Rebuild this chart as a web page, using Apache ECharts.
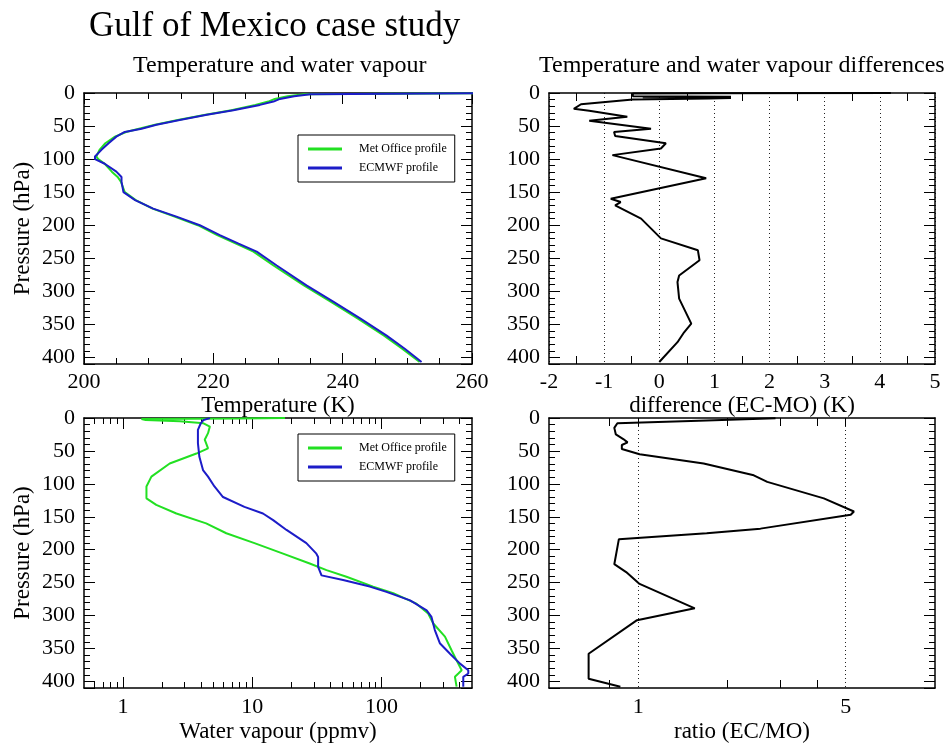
<!DOCTYPE html>
<html><head><meta charset="utf-8">
<script src="https://cdn.jsdelivr.net/npm/echarts@6/dist/echarts.min.js"></script>
<style>html,body{margin:0;padding:0;background:#fff}#c{width:949px;height:747px}</style>
</head><body><div id="c"></div>
<script>
// ---------- data (pressure in hPa) ----------
const tempP  = [0.2, 2, 5, 9, 13, 18, 26, 33, 41, 48, 54, 59, 66, 76, 86, 96, 100, 107, 119, 127, 134, 150, 162, 175, 187, 200, 215, 228, 240, 261, 291, 316, 341, 367, 387, 407];
const tempEC = [262, 235, 232.5, 230.3, 229.3, 227.2, 223.1, 219, 214.8, 211.2, 208.9, 206.3, 205, 203.8, 202.7, 201.7, 201.7, 203.2, 205, 205.8, 205.8, 206.1, 207.9, 210.7, 214.3, 217.9, 221, 223.9, 226.7, 229.8, 234.4, 238.6, 242.7, 246.8, 249.6, 252.2];
const tempMO = [262, 234, 231.5, 229.5, 228.5, 226.5, 222.8, 218.8, 214.5, 211, 208.5, 206.5, 204.8, 203.3, 202.4, 201.9, 202.2, 203.2, 204.3, 205.2, 205.7, 206.3, 208, 210.6, 214, 217.6, 220.6, 223.5, 226.2, 229.3, 234, 238.2, 242.3, 246.4, 249.2, 251.9];

const diffP = [0.1, 0.4, 0.6, 5, 5.5, 6.5, 7.5, 8.5, 10, 12, 17, 24, 27, 36, 42, 54, 59, 65, 76, 84, 94, 129, 160, 165, 170, 190, 220, 238, 253, 276, 286, 311, 349, 362, 377, 407];
const diffK = [4.2, 1.0, -0.48, -0.48, 1.3, -0.3, 1.3, 0.9, -0.48, -0.48, -1.42, -1.55, -1.27, -0.58, -1.27, -0.15, -0.82, -0.8, 0.12, 0.03, -0.85, 0.85, -0.88, -0.7, -0.8, -0.33, 0.03, 0.7, 0.73, 0.36, 0.33, 0.36, 0.58, 0.45, 0.33, 0.0];

const wvPEC = [0.2, 3, 8, 18, 38, 59, 79, 89, 104, 120, 135, 145, 155, 170, 190, 206, 211, 226, 239, 246, 256, 264, 277, 292, 302, 322, 342, 358, 373, 383, 388, 393, 408];
const wvEC  = [4.7, 4.2, 4.0, 3.8, 3.8, 3.9, 4.16, 4.55, 5.1, 5.94, 8.7, 12.1, 14.5, 18.4, 26.2, 31.3, 32.3, 32.3, 34.3, 50.4, 81, 109, 166, 223, 243, 258, 282, 338, 404, 468, 468, 428, 428];
const wvPMO = [0.1, 0.8, 1.5, 3, 5, 8, 13, 23, 33, 38.5, 46, 54, 69, 89, 104, 122, 132, 145, 160, 175, 190, 206, 221, 231, 241, 256, 266, 282, 297, 312, 332, 353, 368, 383, 388, 393, 408];
const wvMO  = [17.9, 8, 1.39, 1.5, 2.75, 4.2, 4.7, 4.55, 4.29, 4.4, 4.55, 3.7, 2.3, 1.66, 1.52, 1.52, 1.81, 2.59, 4.4, 6.3, 10.4, 17.3, 27.8, 37.5, 53.5, 86, 123, 186, 229, 251, 309, 348, 380, 416, 392, 369, 380];

const ratioP = [0.3, 4, 8, 15, 25, 32, 37, 41, 47, 55, 69, 87, 97, 122, 142, 147, 168, 175, 184, 222, 234, 252, 289, 307, 358, 396, 408];
const ratioV = [2.9, 1.6, 0.85, 0.83, 0.84, 0.89, 0.92, 0.88, 0.88, 1.01, 1.66, 2.45, 2.72, 4.22, 5.33, 5.2, 2.58, 1.70, 0.86, 0.83, 0.91, 1.01, 1.55, 0.99, 0.68, 0.68, 0.87];

const diffHalfTicks = [-1.5, -0.5, 0.5, 1.5, 2.5, 3.5, 4.5];
const ratioLabels = [1, 5];
const ratioMinor = [0.8, 2, 3, 4];
const wvLabels = [1, 10, 100];

const legendNames = ['Met Office profile', 'ECMWF profile'];
const titleText = 'Gulf of Mexico case study';
const sub1 = 'Temperature and water vapour';
const sub2 = 'Temperature and water vapour differences';

// ---------- styling ----------
const FONT = '"Liberation Serif", "Times New Roman", serif';
const GREEN = '#22e022', BLUE = '#1c1cc8', BLACK = '#000';
const frame = {show: true, onZero: false, lineStyle: {color: BLACK, width: 1.5}};
const noLine = {show: false, onZero: false};
const lbl = {color: BLACK, fontFamily: FONT, fontSize: 22};
const nameStyle = {color: BLACK, fontFamily: FONT, fontSize: 23};
const tickStyle = {color: BLACK, width: 1};

const zip = (a, b) => a.map((v, i) => [v, b[i]]);

function yAxes(g, withName) {
  const base = {
    gridIndex: g, type: 'value', inverse: true, min: 0, max: 410, interval: 50,
    axisLine: frame, splitLine: {show: false},
    axisTick: {show: true, inside: true, length: 11, lineStyle: tickStyle},
    minorTick: {show: true, splitNumber: 5, length: 6, lineStyle: tickStyle}
  };
  return [
    Object.assign({}, base, {position: 'left',
      axisLabel: Object.assign({}, lbl, {margin: 9, formatter: v => (v > 400 ? '' : String(v))}),
      name: withName ? 'Pressure (hPa)' : '', nameLocation: 'middle', nameGap: 50, nameTextStyle: nameStyle}),
    Object.assign({}, base, {position: 'right', axisLabel: {show: false}})
  ];
}

const xAxis = [
  // grid 0 : temperature
  {gridIndex: 0, type: 'value', position: 'bottom', min: 200, max: 260, interval: 20,
   axisLine: frame, splitLine: {show: false},
   axisTick: {inside: true, length: 11, lineStyle: tickStyle},
   minorTick: {show: true, splitNumber: 4, length: 6, lineStyle: tickStyle},
   axisLabel: Object.assign({}, lbl, {margin: 7}),
   name: 'Temperature (K)', nameLocation: 'middle', nameGap: 30, nameTextStyle: nameStyle},
  {gridIndex: 0, type: 'value', position: 'top', min: 200, max: 260, interval: 20,
   axisLine: frame, splitLine: {show: false},
   axisTick: {inside: true, length: 11, lineStyle: tickStyle},
   minorTick: {show: true, splitNumber: 4, length: 6, lineStyle: tickStyle},
   axisLabel: {show: false}},
  // grid 1 : differences
  {gridIndex: 1, type: 'value', position: 'bottom', min: -2, max: 5, interval: 1,
   axisLine: frame,
   splitLine: {show: true, lineStyle: {color: '#222', width: 1, type: [1, 3]}},
   axisTick: {show: false},
   axisLabel: Object.assign({}, lbl, {margin: 7}),
   name: 'difference (EC-MO) (K)', nameLocation: 'middle', nameGap: 30, nameTextStyle: nameStyle},
  {gridIndex: 1, type: 'value', position: 'bottom', min: -2, max: 5,
   axisLine: noLine, splitLine: {show: false}, axisLabel: {show: false},
   axisTick: {show: true, inside: true, length: 8, customValues: diffHalfTicks, lineStyle: tickStyle}},
  {gridIndex: 1, type: 'value', position: 'top', min: -2, max: 5,
   axisLine: frame, splitLine: {show: false}, axisLabel: {show: false},
   axisTick: {show: true, inside: true, length: 8, customValues: diffHalfTicks, lineStyle: tickStyle}},
  // grid 2 : water vapour (log)
  {gridIndex: 2, type: 'log', logBase: 10, position: 'bottom', min: 0.5, max: 500,
   axisLine: frame, splitLine: {show: false},
   axisTick: {inside: true, length: 11, customValues: wvLabels, lineStyle: tickStyle},
   minorTick: {show: true, splitNumber: 9, length: 6, lineStyle: tickStyle},
   axisLabel: Object.assign({}, lbl, {margin: 8, customValues: wvLabels}),
   name: 'Water vapour (ppmv)', nameLocation: 'middle', nameGap: 32, nameTextStyle: nameStyle},
  {gridIndex: 2, type: 'log', logBase: 10, position: 'top', min: 0.5, max: 500,
   axisLine: frame, splitLine: {show: false},
   axisTick: {inside: true, length: 11, customValues: wvLabels, lineStyle: tickStyle},
   minorTick: {show: true, splitNumber: 9, length: 6, lineStyle: tickStyle},
   axisLabel: {show: false}},
  // grid 3 : ratio (log)
  {gridIndex: 3, type: 'log', logBase: 10, position: 'bottom', min: 0.5, max: 10,
   axisLine: frame,
   splitLine: {show: true, lineStyle: {color: '#222', width: 1, type: [1, 3]}},
   axisTick: {show: false, customValues: ratioLabels},
   axisLabel: Object.assign({}, lbl, {margin: 8, customValues: ratioLabels}),
   name: 'ratio (EC/MO)', nameLocation: 'middle', nameGap: 32, nameTextStyle: nameStyle},
  {gridIndex: 3, type: 'log', logBase: 10, position: 'bottom', min: 0.5, max: 10,
   axisLine: noLine, splitLine: {show: false}, axisLabel: {show: false},
   axisTick: {show: true, inside: true, length: 8, customValues: ratioMinor, lineStyle: tickStyle}},
  {gridIndex: 3, type: 'log', logBase: 10, position: 'top', min: 0.5, max: 10,
   axisLine: frame, splitLine: {show: false}, axisLabel: {show: false},
   axisTick: {show: true, inside: true, length: 8, customValues: ratioMinor.concat(ratioLabels), lineStyle: tickStyle}}
];

const yAxis = [].concat(yAxes(0, true), yAxes(1, false), yAxes(2, true), yAxes(3, false));

function lineSeries(name, data, xi, yi, color) {
  return {name, type: 'line', data, xAxisIndex: xi, yAxisIndex: yi, color,
    showSymbol: false, symbol: 'none', smooth: false, clip: true,
    lineStyle: {color, width: 2}, emphasis: {disabled: true}};
}

function legend(top) {
  return {data: legendNames, orient: 'vertical', left: 298, top,
    icon: 'rect', itemWidth: 34, itemHeight: 3, itemGap: 7,
    padding: [8, 8, 8, 10], borderColor: BLACK, borderWidth: 1, backgroundColor: '#fff',
    selectedMode: false, itemStyle: {borderWidth: 0},
    textStyle: {color: BLACK, fontFamily: FONT, fontSize: 12, padding: [0, 0, 0, 12]}};
}

const option = {
  animation: false,
  backgroundColor: '#fff',
  title: [
    {text: titleText, left: 89, top: 9, padding: 0,
     textStyle: {fontFamily: FONT, fontSize: 35, fontWeight: 'normal', color: BLACK}},
    {text: sub1, left: 133, top: 54, padding: 0,
     textStyle: {fontFamily: FONT, fontSize: 24, fontWeight: 'normal', color: BLACK}},
    {text: sub2, left: 539, top: 54, padding: 0,
     textStyle: {fontFamily: FONT, fontSize: 24, fontWeight: 'normal', color: BLACK}}
  ],
  grid: [
    {left: 84, top: 93, width: 388, height: 271, outerBoundsMode: 'none', containLabel: false},
    {left: 549, top: 93, width: 386, height: 271, outerBoundsMode: 'none', containLabel: false},
    {left: 84, top: 418, width: 388, height: 270, outerBoundsMode: 'none', containLabel: false},
    {left: 549, top: 418, width: 386, height: 270, outerBoundsMode: 'none', containLabel: false}
  ],
  legend: [legend(135), legend(434)],
  xAxis, yAxis,
  series: [
    lineSeries('Met Office profile', zip(tempMO, tempP), 0, 0, GREEN),
    lineSeries('ECMWF profile', zip(tempEC, tempP), 0, 0, BLUE),
    lineSeries('difference', zip(diffK, diffP), 2, 2, BLACK),
    lineSeries('Met Office profile', zip(wvMO, wvPMO), 5, 4, GREEN),
    lineSeries('ECMWF profile', zip(wvEC, wvPEC), 5, 4, BLUE),
    lineSeries('ratio', zip(ratioV, ratioP), 7, 6, BLACK)
  ]
};

const chart = echarts.init(document.getElementById('c'), null, {renderer: 'canvas'});
chart.setOption(option);
</script>
</body></html>
